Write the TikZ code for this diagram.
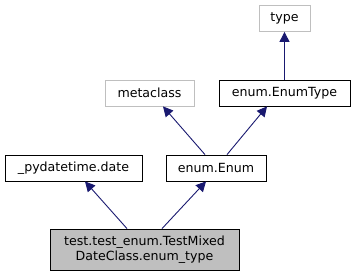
\documentclass[tikz,border=0pt]{standalone}
\usepackage{fontspec}
\setmainfont{DejaVu Sans}
\usetikzlibrary{arrows.meta}
\definecolor{edgeblue}{HTML}{191970}
\definecolor{grayborder}{HTML}{BFBFBF}
\tikzset{
  cls/.style={draw=black, line width=0.8pt, fill=white, inner sep=0pt, font=\fontsize{12.6}{14.5}\selectfont},
  ext/.style={cls, draw=grayborder},
  focus/.style={cls, fill=grayborder, align=center},
  inherit/.style={draw=edgeblue, line width=0.9pt, -{Triangle[length=10pt,width=10pt]}}
}
\begin{document}
\begin{tikzpicture}[x=1pt,y=-1pt]
  \useasboundingbox (0,0) rectangle (355,276);
  \node[ext, minimum width=51pt, minimum height=26pt] (type) at (284.5,18.5) {type};
  \node[ext, minimum width=89pt, minimum height=26pt] (meta) at (149.5,93) {metaclass};
  \node[cls, minimum width=131pt, minimum height=26pt] (etype) at (284.5,93) {enum.EnumType};
  \node[cls, minimum width=137pt, minimum height=26pt] (date) at (73.5,168) {\_pydatetime.date};
  \node[cls, minimum width=100pt, minimum height=26pt] (enum) at (216,168) {enum.Enum};
  \node[focus, minimum width=189pt, minimum height=41pt] (self) at (144.5,249.5) {test.test\_enum.TestMixed\\DateClass.enum\_type};
  \draw[inherit] (etype.north) -- (type.south);
  \draw[inherit] (enum.north -| 205,0) -- (meta.south -| 163,0);
  \draw[inherit] (enum.north -| 227,0) -- (etype.south -| 267,0);
  \draw[inherit] (self.north -| 127,0) -- (date.south -| 85,0);
  \draw[inherit] (self.north -| 162,0) -- (enum.south -| 206,0);
\end{tikzpicture}
\end{document}
